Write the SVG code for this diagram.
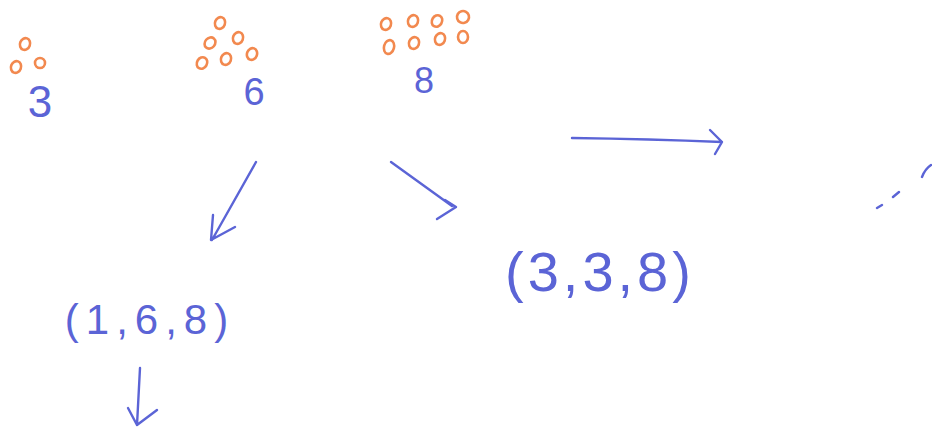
<svg xmlns="http://www.w3.org/2000/svg" width="932" height="435" viewBox="0 0 932 435">
<style>
.dot{fill:none;stroke:#f2894f;stroke-width:2.6}
.ink{fill:none;stroke:#5b64d6;stroke-width:2.4;stroke-linecap:round;stroke-linejoin:round}
.t{fill:#5b64d6;font-family:"Liberation Sans","DejaVu Sans",sans-serif;font-weight:normal}
</style>
<rect width="932" height="435" fill="#ffffff"/>
<g id="node-3">
<ellipse class="dot" cx="25" cy="44" rx="5" ry="6" transform="rotate(20 25 44)"/>
<ellipse class="dot" cx="16" cy="67" rx="5" ry="6" transform="rotate(20 16 67)"/>
<ellipse class="dot" cx="40" cy="63" rx="5" ry="5"/>
<text class="t" x="40" y="117" font-size="44" text-anchor="middle">3</text>
</g>
<g id="node-6">
<ellipse class="dot" cx="220" cy="23" rx="5" ry="6" transform="rotate(20 220 23)"/>
<ellipse class="dot" cx="210" cy="43" rx="5" ry="6" transform="rotate(40 210 43)"/>
<ellipse class="dot" cx="238" cy="38" rx="5" ry="6" transform="rotate(20 238 38)"/>
<ellipse class="dot" cx="202" cy="63" rx="5" ry="6" transform="rotate(30 202 63)"/>
<ellipse class="dot" cx="226" cy="59" rx="5" ry="6" transform="rotate(20 226 59)"/>
<ellipse class="dot" cx="252" cy="54" rx="5" ry="6" transform="rotate(20 252 54)"/>
<text class="t" x="254" y="105" font-size="38" text-anchor="middle">6</text>
</g>
<g id="node-8">
<ellipse class="dot" cx="386" cy="24" rx="5" ry="6" transform="rotate(20 386 24)"/>
<ellipse class="dot" cx="413" cy="21" rx="5" ry="6" transform="rotate(20 413 21)"/>
<ellipse class="dot" cx="437" cy="21" rx="5" ry="6" transform="rotate(30 437 21)"/>
<ellipse class="dot" cx="463" cy="17" rx="6" ry="6" transform="rotate(30 463 17)"/>
<ellipse class="dot" cx="389" cy="47" rx="5" ry="7" transform="rotate(15 389 47)"/>
<ellipse class="dot" cx="414" cy="43" rx="5" ry="6" transform="rotate(20 414 43)"/>
<ellipse class="dot" cx="440" cy="39" rx="5" ry="6" transform="rotate(20 440 39)"/>
<ellipse class="dot" cx="463" cy="37" rx="5" ry="6"/>
<text class="t" x="424" y="93" font-size="36" text-anchor="middle">8</text>
</g>
<g id="node-168">
<text class="t" x="150" y="334" font-size="42" text-anchor="middle" letter-spacing="7">(1,6,8)</text>
</g>
<g id="node-338">
<text class="t" x="600" y="291" font-size="56" text-anchor="middle" letter-spacing="4">(3,3,8)</text>
</g>
<g id="connectors">
<path class="ink" d="M256 162 L212 240 M213 215 L211 240 L235 227"/>
<path class="ink" d="M391 162 L452 206 M445 200 L456 207 L437 219"/>
<path class="ink" d="M572 138 Q650 139 722 142 M710 130 L722 142 L715 154"/>
<path class="ink" d="M140 368 L137 425 M128 408 L137 425 L157 410"/>
<path class="ink" d="M877 208 L882 205 M893 197 L899 192 M922 177 Q925 169 931 165"/>
</g>
</svg>
